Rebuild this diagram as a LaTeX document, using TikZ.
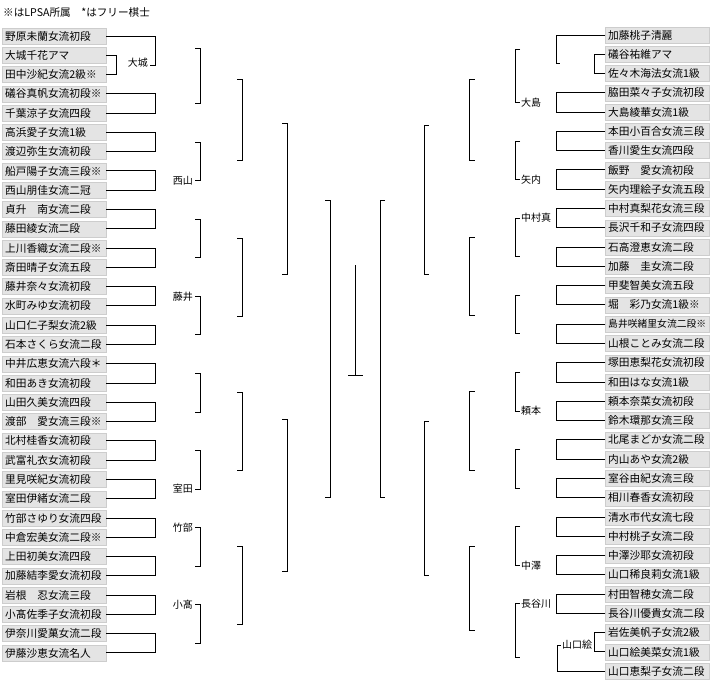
\documentclass[tikz,border=0pt]{standalone}
\usepackage{fontspec}
\setmainfont{Noto Sans CJK JP}

\definecolor{boxgray}{HTML}{E4E4E4}
\definecolor{boxedge}{HTML}{CDCDCD}

\tikzset{
  namebox/.style={draw=boxedge, fill=boxgray, anchor=west, minimum height=16pt,
    inner xsep=3pt, inner ysep=0pt, font=\fontsize{10.7}{12}\selectfont},
  bk/.style={line width=1pt},
  winner/.style={inner sep=0pt, font=\fontsize{10}{12}\selectfont}
}

% bracket of a later round: ] on the left half, [ on the right half
\newcommand{\lbrak}[3]{\draw[bk] (#1-5,#2) -- (#1,#2) -- (#1,#3) -- (#1-5,#3);}
\newcommand{\rbrak}[3]{\draw[bk] (#1+5,#2) -- (#1,#2) -- (#1,#3) -- (#1+5,#3);}

\begin{document}
\begin{tikzpicture}[x=1pt, y=-1pt]

    \useasboundingbox (0,0) rectangle (710,680);

    \def\pitch{19.28} % Abstand der Zeilen

    \node[winner, anchor=west, font=\fontsize{10.6}{12}\selectfont] (note) at (3,12)
      {※はLPSA所属　*はフリー棋士};

    % --- linke Seite ---
    \foreach \nm [count=\i] in {野原未蘭女流初段, 大城千花アマ, 田中沙紀女流2級※,
        礒谷真帆女流初段※, 千葉涼子女流四段, 高浜愛子女流1級, 渡辺弥生女流初段,
        船戸陽子女流三段※, 西山朋佳女流二冠, 貞升　南女流二段, 藤田綾女流二段,
        上川香織女流二段※, 斎田晴子女流五段, 藤井奈々女流初段, 水町みゆ女流初段,
        山口仁子梨女流2級, 石本さくら女流二段, 中井広恵女流六段＊, 和田あき女流初段,
        山田久美女流四段, 渡部　愛女流三段※, 北村桂香女流初段, 武富礼衣女流初段,
        里見咲紀女流初段, 室田伊緒女流二段, 竹部さゆり女流四段, 中倉宏美女流二段※,
        上田初美女流四段, 加藤結李愛女流初段, 岩根　忍女流三段, 小髙佐季子女流初段,
        伊奈川愛菓女流二段, 伊藤沙恵女流名人}
      \node[namebox] (L\i) at (2, {36+(\i-1)*\pitch}) {\makebox[98pt][l]{\nm}};

    % --- rechte Seite ---
    \foreach \nm [count=\j] in {加藤桃子清麗, 礒谷祐維アマ, 佐々木海法女流1級,
        脇田菜々子女流初段, 大島綾華女流1級, 本田小百合女流三段, 香川愛生女流四段,
        飯野　愛女流初段, 矢内理絵子女流五段, 中村真梨花女流三段, 長沢千和子女流四段,
        石高澄恵女流二段, 加藤　圭女流二段, 甲斐智美女流五段, 堀　彩乃女流1級※,
        {\fontsize{9.8}{12}\selectfont 島井咲緒里女流二段※}, 山根ことみ女流二段,
        塚田恵梨花女流初段, 和田はな女流1級,
        頼本奈菜女流初段, 鈴木環那女流三段, 北尾まどか女流二段, 内山あや女流2級,
        室谷由紀女流三段, 相川春香女流初段, 清水市代女流七段, 中村桃子女流二段,
        中澤沙耶女流初段, 山口稀良莉女流1級, 村田智穂女流二段, 長谷川優貴女流二段,
        岩佐美帆子女流2級, 山口絵美菜女流1級, 山口恵梨子女流二段}
      \node[namebox] (R\j) at (605, {35+(\j-1)*\pitch}) {\makebox[98pt][l]{\nm}};

    % 1. Runde links
    \draw[bk] (L2.east) -- ++(10,0) |- (L3.east);
    \draw[bk] (L1.east) -| (155,65) -- (150,65);
    \foreach \a/\b in {4/5,6/7,8/9,10/11,12/13,14/15,16/17,18/19,20/21,22/23,
        24/25,26/27,28/29,30/31,32/33}
      \draw[bk] (L\a.east) -- ++(49,0) |- (L\b.east);

    % 1. Runde rechts
    \draw[bk] (R2.west) -- ++(-11,0) |- (R3.west);
    \draw[bk] (R1.west) -| (556,63) -- (560,63);
    \draw[bk] (R32.west) -- ++(-11,0) |- (R33.west);
    \draw[bk] (R34.west) -| (557,645) -- (561,645);
    \foreach \a/\b in {4/5,6/7,8/9,10/11,12/13,14/15,16/17,18/19,20/21,22/23,
        24/25,26/27,28/29,30/31}
      \draw[bk] (R\a.west) -- ++(-49,0) |- (R\b.west);

    % 2. Runde
    \lbrak{200}{48}{103.5}   \lbrak{200}{142}{180.6}
    \lbrak{200}{219.2}{257.7} \lbrak{200}{296.3}{334.8}
    \lbrak{200}{373.4}{412}   \lbrak{200}{450.5}{489.1}
    \lbrak{200}{527.6}{566.2} \lbrak{200}{604.8}{643.3}
    \rbrak{515}{49}{102.5}    \rbrak{515}{141}{179.6}
    \rbrak{515}{218.2}{256.7} \rbrak{515}{295.3}{333.8}
    \rbrak{515}{372.4}{411}   \rbrak{515}{449.5}{488}
    \rbrak{515}{526.6}{565.2} \rbrak{515}{603.8}{657}

    % 3. Runde
    \lbrak{242}{79}{160.5}    \lbrak{242}{238.5}{316}
    \lbrak{242}{392.7}{470}   \lbrak{242}{546.9}{624.5}
    \rbrak{469.5}{79}{160.5}  \rbrak{469.5}{237.5}{315}
    \rbrak{469.5}{391.7}{470} \rbrak{469.5}{546}{630}

    % Viertelfinale, Halbfinale
    \lbrak{287}{123}{274}  \lbrak{287}{419}{571}
    \rbrak{424}{125}{274}  \rbrak{424}{421}{575}
    \lbrak{330}{200}{497}
    \rbrak{380}{200}{497}

    % Finale
    \draw[bk] (355,265) -- (355,375);
    \draw[bk] (348,375) -- (363,375);

    % Sieger
    \node[winner, anchor=east] (wL1) at (148,63) {大城};
    \node[winner, anchor=east] (wL2) at (193,180.6) {西山};
    \node[winner, anchor=east] (wL4) at (193,296.3) {藤井};
    \node[winner, anchor=east] (wL6) at (193,489.1) {室田};
    \node[winner, anchor=east] (wL7) at (193,527.6) {竹部};
    \node[winner, anchor=east] (wL8) at (193,604.8) {小髙};
    \node[winner, anchor=west] (wR1) at (521,102.5) {大島};
    \node[winner, anchor=west] (wR2) at (521,179.6) {矢内};
    \node[winner, anchor=west] (wR3) at (521,218.2) {中村真};
    \node[winner, anchor=west] (wR5) at (521,411) {頼本};
    \node[winner, anchor=west] (wR7) at (521,565.2) {中澤};
    \node[winner, anchor=west] (wR8) at (521,603.8) {長谷川};
    \node[winner, anchor=west] (wR9) at (562,645) {山口絵};

\end{tikzpicture}
\end{document}
